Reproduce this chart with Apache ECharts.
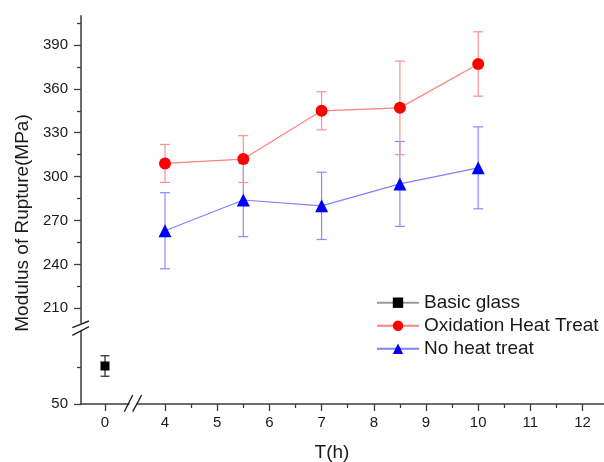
<!DOCTYPE html>
<html><head><meta charset="utf-8">
<script src="https://cdn.jsdelivr.net/npm/echarts@6/dist/echarts.min.js"></script>
<style>html,body{margin:0;padding:0;background:#fff}#c{width:604px;height:462px}</style>
</head><body><div id="c"></div>
<script>
// ---- data ----
const basicX = [0];
const basicY = [76];
const basicErr = [7];
const timeH = [4, 5.5, 7, 8.5, 10];
const oxidY = [309, 312, 345, 347, 377];
const oxidErr = [13, 16, 13, 32, 22];
const noHeatY = [263, 284, 280, 295, 306];
const noHeatErr = [26, 25, 23, 29, 28];
const seriesNames = ['Basic glass', 'Oxidation Heat Treat', 'No heat treat'];
const xTicksLeft = [0];
const xTicksRight = [4, 5, 6, 7, 8, 9, 10, 11, 12];
const xMinorRight = [4.5, 5.5, 6.5, 7.5, 8.5, 9.5, 10.5, 11.5];
const yTicksUpper = [210, 240, 270, 300, 330, 360, 390];
const yMinorUpper = [225, 255, 285, 315, 345, 375, 405];
const yTicksLower = [50];
const yMinorLower = [75];

// ---- layout ----
const FONT = "'Liberation Sans', Arial, sans-serif";
const AX = '#3c3c3c';
const TXT = '#1a1a1a';
const PXU = 52.2;              // px per hour
const leftCol = {left: 81, width: 48};
const rightCol = {left: 137, width: 467};
const upperRow = {top: 15.7, height: 307.2};
const lowerRow = {top: 330.9, height: 73.1};
const xL0 = -24 / PXU, xL1 = xL0 + leftCol.width / PXU;
const xR0 = 4 - 28 / PXU, xR1 = xR0 + rightCol.width / PXU;

function grid(c, r) {
  return {left: c.left, width: c.width, top: r.top, height: r.height, containLabel: false};
}
function hiddenAxis(gi, min, max) {
  return {type: 'value', gridIndex: gi, min: min, max: max, show: false};
}
function xAx(gi, min, max, ticks, len, labels) {
  return {
    type: 'value', gridIndex: gi, min: min, max: max, position: 'bottom',
    axisLine: {show: labels, onZero: false, lineStyle: {color: AX, width: 1.5}},
    axisTick: {show: true, inside: false, length: len, customValues: ticks, lineStyle: {color: AX, width: 1.3}},
    axisLabel: labels ? {show: true, customValues: ticks, margin: 11, color: TXT, fontSize: 15, fontFamily: FONT} : {show: false},
    splitLine: {show: false}
  };
}
function yAx(gi, min, max, ticks, len, labels) {
  return {
    type: 'value', gridIndex: gi, min: min, max: max, position: 'left', offset: 0,
    axisLine: {show: labels, onZero: false, lineStyle: {color: AX, width: 1.5}},
    axisTick: {show: true, inside: false, length: len, customValues: ticks, lineStyle: {color: AX, width: 1.3}},
    axisLabel: labels ? {show: true, customValues: ticks, margin: 13, color: TXT, fontSize: 15, fontFamily: FONT} : {show: false},
    splitLine: {show: false}
  };
}
function errData(xs, ys, es) {
  return xs.map((x, i) => [x, ys[i] - es[i], ys[i] + es[i]]);
}
function errRender(color, cap) {
  return function (params, api) {
    const x = api.value(0);
    const lo = api.coord([x, api.value(1)]);
    const hi = api.coord([x, api.value(2)]);
    const h = cap / 2;
    const st = {stroke: color, lineWidth: 1.2};
    return {type: 'group', children: [
      {type: 'line', shape: {x1: hi[0], y1: hi[1], x2: lo[0], y2: lo[1]}, style: st},
      {type: 'line', shape: {x1: hi[0] - h, y1: hi[1], x2: hi[0] + h, y2: hi[1]}, style: st},
      {type: 'line', shape: {x1: lo[0] - h, y1: lo[1], x2: lo[0] + h, y2: lo[1]}, style: st}
    ]};
  };
}
function slash(x1, y1, x2, y2) {
  return {type: 'line', shape: {x1, y1, x2, y2}, style: {stroke: '#222', lineWidth: 1.4}, z: 100};
}

const chart = echarts.init(document.getElementById('c'), null, {renderer: 'canvas'});
chart.setOption({
  animation: false,
  backgroundColor: '#fff',
  textStyle: {fontFamily: FONT},
  grid: [grid(leftCol, lowerRow), grid(rightCol, lowerRow), grid(leftCol, upperRow), grid(rightCol, upperRow)],
  xAxis: [
    xAx(0, xL0, xL1, xTicksLeft, 7, true),
    xAx(1, xR0, xR1, xTicksRight, 7, true),
    hiddenAxis(2, xL0, xL1),
    hiddenAxis(3, xR0, xR1),
    xAx(1, xR0, xR1, xMinorRight, 4, false)
  ],
  yAxis: [
    yAx(0, 50, 100, yTicksLower, 7, true),
    hiddenAxis(1, 50, 100),
    yAx(2, 200, 410, yTicksUpper, 7, true),
    hiddenAxis(3, 200, 410),
    yAx(0, 50, 100, yMinorLower, 4, false),
    yAx(2, 200, 410, yMinorUpper, 4, false)
  ],
  legend: {
    data: seriesNames,
    orient: 'vertical', left: 376, top: 293.2, padding: 0,
    itemWidth: 42, itemHeight: 13, itemGap: 4,
    selectedMode: false,
    textStyle: {fontSize: 19, lineHeight: 19, color: TXT, fontFamily: FONT}
  },
  graphic: [
    {type: 'text', x: 23, y: 223, rotation: Math.PI / 2,
     style: {text: 'Modulus of Rupture(MPa)', font: "19px 'Liberation Sans', Arial", fill: TXT, textAlign: 'center', textVerticalAlign: 'middle'}},
    {type: 'text', x: 332, y: 453,
     style: {text: 'T(h)', font: "19px 'Liberation Sans', Arial", fill: TXT, textAlign: 'center', textVerticalAlign: 'middle'}},
    slash(72.3, 327.7, 89, 321),
    slash(72.3, 335.3, 89, 326.7),
    slash(124.3, 411.7, 132.7, 395),
    slash(132.7, 411.7, 141.7, 395)
  ],
  series: [
    {type: 'custom', name: 'err0', xAxisIndex: 0, yAxisIndex: 0, z: 1,
     renderItem: errRender('#222', 9), data: errData(basicX, basicY, basicErr)},
    {type: 'custom', name: 'err2', xAxisIndex: 3, yAxisIndex: 3, z: 1,
     renderItem: errRender('#8a8aff', 10), data: errData(timeH, noHeatY, noHeatErr)},
    {type: 'custom', name: 'err1', xAxisIndex: 3, yAxisIndex: 3, z: 1,
     renderItem: errRender('#ff8f8f', 10), data: errData(timeH, oxidY, oxidErr)},
    {type: 'line', name: seriesNames[0], xAxisIndex: 0, yAxisIndex: 0, z: 3,
     data: basicX.map((x, i) => [x, basicY[i]]),
     symbol: 'rect', symbolSize: 9, itemStyle: {color: '#000'},
     lineStyle: {color: '#9a9a9a', width: 1.2}},
    {type: 'line', name: seriesNames[2], xAxisIndex: 3, yAxisIndex: 3, z: 3,
     data: timeH.map((x, i) => [x, noHeatY[i]]),
     symbol: 'triangle', symbolSize: 13, itemStyle: {color: '#0000ff'},
     lineStyle: {color: '#8080ff', width: 1.2}},
    {type: 'line', name: seriesNames[1], xAxisIndex: 3, yAxisIndex: 3, z: 4,
     data: timeH.map((x, i) => [x, oxidY[i]]),
     symbol: 'circle', symbolSize: 12, itemStyle: {color: '#ff0000'},
     lineStyle: {color: '#ff8080', width: 1.2}}
  ]
});
</script></body></html>
